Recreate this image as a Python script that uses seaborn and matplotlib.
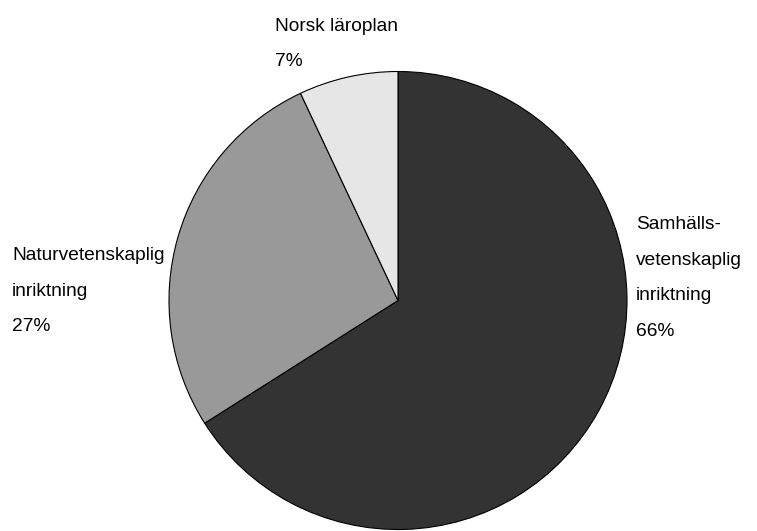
import seaborn as sns
import matplotlib.pyplot as plt

# data
categories = ['Samhälls-\nvetenskaplig\ninriktning', 'Naturvetenskaplig\ninriktning', 'Norsk läroplan']
shares = [66, 27, 7]
colours = ['#333333', '#999999', '#e6e6e6']

sns.set_theme(style='white')
plt.rcParams['font.family'] = ['Liberation Sans', 'DejaVu Sans']

W, H = 757, 531
fig = plt.figure(figsize=(W / 100, H / 100), dpi=100)
ax = fig.add_axes([0, 0, 1, 1])

ax.pie(shares, colors=colours, startangle=90, counterclock=False,
       center=(398, H - 300.5), radius=229,
       wedgeprops={'edgecolor': 'black', 'linewidth': 0.8})
# axes in pixel units
ax.set_xlim(0, W)
ax.set_ylim(0, H)
ax.set_aspect('equal')
ax.axis('off')

# labels: (x of left edge, y of block centre from top)
label_pos = [(636, 278), (12, 291), (275, 44)]
for cat, val, (x, y) in zip(categories, shares, label_pos):
    ax.text(x, H - y, cat + '\n' + str(val) + '%', ha='left', va='center',
            fontsize=13.8, linespacing=2.45, color='black')

plt.savefig('out.png', dpi=100)
